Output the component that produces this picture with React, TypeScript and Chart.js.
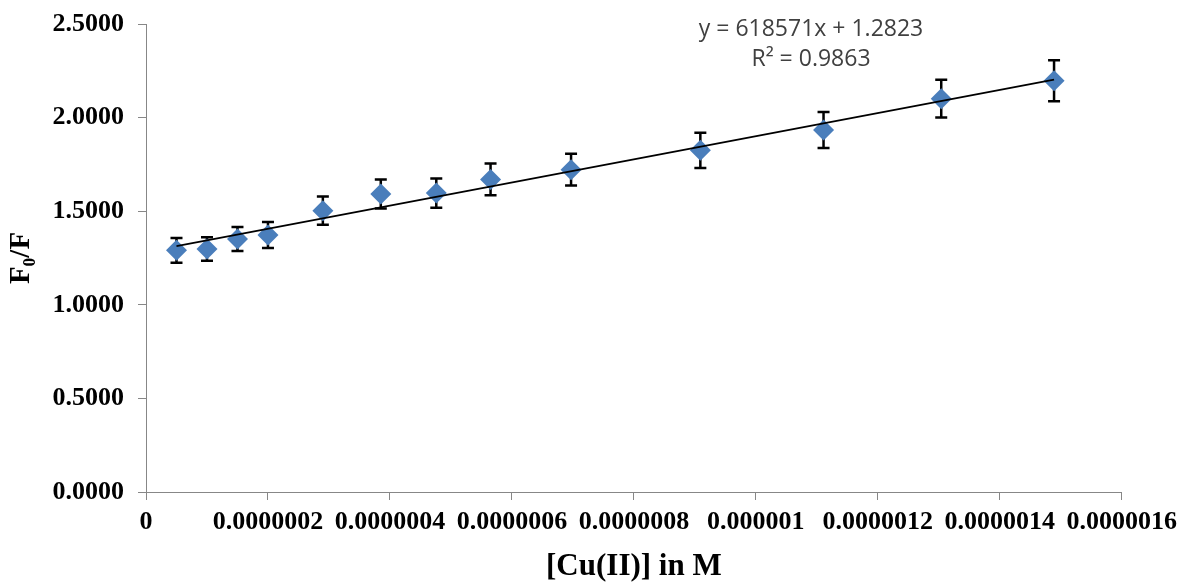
import React, { useEffect, useRef } from "react";
import { Chart, registerables } from "chart.js";

Chart.register(...registerables);

// ---- data ----
const concentrations = [5e-8, 1e-7, 1.5e-7, 2e-7, 2.9e-7, 3.85e-7, 4.76e-7, 5.65e-7, 6.97e-7, 9.09e-7, 1.111e-6, 1.304e-6, 1.489e-6];
const ratios = [1.291, 1.298, 1.352, 1.373, 1.503, 1.592, 1.597, 1.67, 1.722, 1.825, 1.934, 2.101, 2.197];
const errors = [0.066, 0.063, 0.064, 0.069, 0.075, 0.078, 0.078, 0.085, 0.085, 0.094, 0.096, 0.101, 0.11];
const fitSlope = 618571;
const fitIntercept = 1.2823;
const equationLines = ["y = 618571x + 1.2823", "R² = 0.9863"];
const xTicks = [0, 2e-7, 4e-7, 6e-7, 8e-7, 1e-6, 1.2e-6, 1.4e-6, 1.6e-6];
const yTicks = [0, 0.5, 1, 1.5, 2, 2.5];
const xTitle = "[Cu(II)] in M";
const yTitle = "F₀/F";

const AXIS_GRAY = "#878787";
const MARKER_BLUE = "#4A7EBB";

function formatX(v: number): string {
  let s = v.toFixed(7);
  s = s.replace(/0+$/, "").replace(/\.$/, "");
  return s;
}

const errorBarPlugin = {
  id: "errorBars",
  beforeDatasetsDraw(chart: any) {
    const xs = chart.scales.x;
    const ys = chart.scales.y;
    const ctx = chart.ctx;
    ctx.save();
    ctx.strokeStyle = "#000000";
    ctx.lineWidth = 2.5;
    ctx.lineCap = "butt";
    const half = 6;
    concentrations.forEach((c, i) => {
      const px = xs.getPixelForValue(c);
      const top = ys.getPixelForValue(ratios[i] + errors[i]);
      const bot = ys.getPixelForValue(ratios[i] - errors[i]);
      ctx.beginPath();
      ctx.moveTo(px, top);
      ctx.lineTo(px, bot);
      ctx.moveTo(px - half, top);
      ctx.lineTo(px + half, top);
      ctx.moveTo(px - half, bot);
      ctx.lineTo(px + half, bot);
      ctx.stroke();
    });
    ctx.restore();
  },
};

const equationPlugin = {
  id: "equation",
  afterDraw(chart: any) {
    const ctx = chart.ctx;
    ctx.save();
    ctx.fillStyle = "#404040";
    ctx.font = "23px 'Open Sans', 'Liberation Sans', sans-serif";
    ctx.textAlign = "center";
    ctx.textBaseline = "middle";
    const cx = 811;
    ctx.fillText(equationLines[0], cx, 29);
    ctx.fillText(equationLines[1], cx, 59);
    ctx.restore();
  },
};

export default function App() {
  const canvasRef = useRef<HTMLCanvasElement | null>(null);

  useEffect(() => {
    if (!canvasRef.current) return;
    const points = concentrations.map((c, i) => ({ x: c, y: ratios[i] }));
    const x0 = concentrations[0];
    const x1 = concentrations[concentrations.length - 1];
    const trend = [
      { x: x0, y: fitSlope * x0 + fitIntercept },
      { x: x1, y: fitSlope * x1 + fitIntercept },
    ];
    const tickFont = { family: "'Liberation Serif', 'Times New Roman', serif", weight: "bold" as const };
    const chart = new Chart(canvasRef.current, {
      type: "scatter",
      data: {
        datasets: [
          {
            label: "Linear fit",
            data: trend,
            showLine: true,
            borderColor: "#000000",
            borderWidth: 1.8,
            pointRadius: 0,
            fill: false,
          },
          {
            label: "F0/F",
            data: points,
            pointStyle: "rectRot",
            pointRadius: 10.5,
            backgroundColor: MARKER_BLUE,
            borderColor: MARKER_BLUE,
            borderWidth: 0,
            showLine: false,
          },
        ],
      },
      options: {
        responsive: false,
        animation: false,
        devicePixelRatio: 1,
        layout: { padding: { top: 24, right: 62, left: 0, bottom: 0 } },
        plugins: {
          legend: { display: false },
          tooltip: { enabled: false },
        },
        scales: {
          x: {
            type: "linear",
            min: 0,
            max: 1.6e-6,
            afterBuildTicks: (scale: any) => {
              scale.ticks = xTicks.map((v) => ({ value: v }));
            },
            afterFit: (scale: any) => {
              scale.height = 90;
            },
            grid: {
              display: true,
              drawOnChartArea: false,
              drawTicks: true,
              tickLength: 8,
              color: AXIS_GRAY,
            },
            border: { display: true, color: AXIS_GRAY, width: 1 },
            ticks: {
              autoSkip: false,
              maxRotation: 0,
              minRotation: 0,
              padding: 7,
              color: "#000000",
              font: { ...tickFont, size: 26 },
              callback: (v: any) => formatX(Number(v)),
            },
            title: {
              display: true,
              text: xTitle,
              color: "#000000",
              font: { ...tickFont, size: 31, lineHeight: 1 },
              padding: { top: 0, bottom: 0 },
            },
          },
          y: {
            type: "linear",
            min: 0,
            max: 2.5,
            afterBuildTicks: (scale: any) => {
              scale.ticks = yTicks.map((v) => ({ value: v }));
            },
            afterFit: (scale: any) => {
              scale.width = 146;
              scale.paddingTop = 0;
              scale.paddingBottom = 0;
            },
            grid: {
              display: true,
              drawOnChartArea: false,
              drawTicks: true,
              tickLength: 8,
              color: AXIS_GRAY,
            },
            border: { display: true, color: AXIS_GRAY, width: 1 },
            ticks: {
              autoSkip: false,
              padding: 14,
              color: "#000000",
              font: { ...tickFont, size: 26 },
              callback: (v: any) => Number(v).toFixed(4),
            },
            title: {
              display: true,
              text: yTitle,
              color: "#000000",
              font: { ...tickFont, size: 29, lineHeight: 1.2 },
              padding: { top: 4, bottom: 0 },
            },
          },
        },
      },
      plugins: [errorBarPlugin, equationPlugin],
    });
    return () => chart.destroy();
  }, []);

  return (
    <div style={{ position: "absolute", left: 0, top: 0, width: 1184, height: 582, background: "#ffffff" }}>
      <canvas ref={canvasRef} width={1184} height={582} style={{ display: "block" }} />
    </div>
  );
}
